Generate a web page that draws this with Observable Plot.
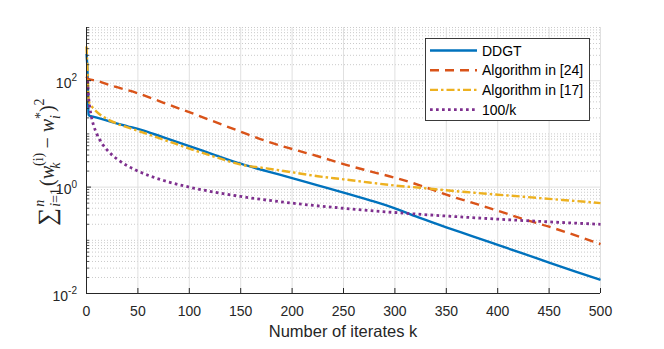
<!DOCTYPE html>
<html>
<head>
<meta charset="utf-8">
<script src="https://cdn.jsdelivr.net/npm/d3@7"></script>
<script src="https://cdn.jsdelivr.net/npm/@observablehq/plot@0.6"></script>
<style>
  html, body { margin: 0; padding: 0; background: #ffffff; }
  #chart svg { display: block; }
</style>
</head>
<body>
<div id="chart"></div>
<script>
// ---- data ----
const kDDGT = [0, 1, 2, 3, 5, 10, 20, 30, 40, 50, 75, 100, 125, 150, 175, 200, 225, 250, 275, 300, 325, 350, 375, 400, 425, 450, 475, 500];
const vDDGT = [320, 150, 23, 22, 21.4, 20.2, 17.8, 15.6, 13.9, 12.4, 8.6, 5.9, 4.0, 2.75, 2.0, 1.48, 1.08, 0.79, 0.57, 0.40, 0.26, 0.175, 0.12, 0.082, 0.056, 0.038, 0.026, 0.018];

const kAlg24 = [0, 1, 2, 10, 25, 50, 75, 100, 125, 150, 175, 200, 225, 250, 275, 300, 325, 350, 375, 400, 425, 450, 475, 500];
const vAlg24 = [120, 110, 107, 100, 80, 58, 38.5, 25.6, 16.8, 11, 7.3, 5.2, 3.8, 2.7, 2.0, 1.5, 1.07, 0.72, 0.51, 0.36, 0.25, 0.18, 0.125, 0.085];

const kAlg17 = [0, 1, 2, 3, 5, 10, 20, 30, 50, 75, 100, 125, 150, 175, 200, 225, 250, 275, 300, 325, 350, 375, 400, 425, 450, 475, 500];
const vAlg17 = [440, 150, 45, 37, 33, 26, 19, 15.5, 11.4, 7.8, 5.3, 3.7, 2.65, 2.25, 1.9, 1.6, 1.4, 1.22, 1.07, 0.97, 0.87, 0.79, 0.72, 0.66, 0.60, 0.55, 0.50];

const kRef = [1, 2, 3, 4, 5, 7, 10, 15, 20, 30, 40, 50, 75, 100, 150, 200, 250, 300, 350, 400, 450, 500];
const vRef = [100, 50, 33.3, 25, 20, 14.3, 10, 6.67, 5, 3.33, 2.5, 2, 1.33, 1, 0.667, 0.5, 0.4, 0.333, 0.286, 0.25, 0.222, 0.2];

const seriesNames = ["DDGT", "Algorithm in [24]", "Algorithm in [17]", "100/k"];
const seriesColors = ["#0072BD", "#D95319", "#EDB120", "#7E2F8E"];
const seriesDash = [null, "9,6", "8,3,2.5,3", "2.7,3.3"];
const seriesWidth = [2.4, 2.4, 2.4, 2.8];

const xTicks = [0, 50, 100, 150, 200, 250, 300, 350, 400, 450, 500];
const yMajor = [0.01, 1, 100];
const yMajorExp = ["-2", "0", "2"];
const yMinor = [
  0.02, 0.03, 0.04, 0.05, 0.06, 0.07, 0.08, 0.09,
  0.1, 0.2, 0.3, 0.4, 0.5, 0.6, 0.7, 0.8, 0.9,
  2, 3, 4, 5, 6, 7, 8, 9,
  10, 20, 30, 40, 50, 60, 70, 80, 90,
  200, 300, 400, 500, 600, 700, 800, 900, 1000
];
const xLabel = "Number of iterates k";

// ---- build tidy rows ----
const rows = [];
const addSeries = (ks, vs, name) => ks.forEach((k, i) => rows.push({k, v: vs[i], name}));
addSeries(kDDGT, vDDGT, seriesNames[0]);
addSeries(kAlg24, vAlg24, seriesNames[1]);
addSeries(kAlg17, vAlg17, seriesNames[2]);
addSeries(kRef, vRef, seriesNames[3]);

const W = 664, H = 349;
const mL = 86, mR = 64, mT = 27, mB = 56;
const fw = W - mL - mR, fh = H - mT - mB;
const axisColor = "#262626";
const sans = "'Liberation Sans', Arial, Helvetica, sans-serif";

const lineMarks = seriesNames.map((name, i) =>
  Plot.line(rows.filter(d => d.name === name), {
    x: "k", y: "v",
    stroke: seriesColors[i],
    strokeWidth: seriesWidth[i],
    strokeDasharray: seriesDash[i],
    strokeLinecap: "butt",
    strokeLinejoin: "round",
    curve: "monotone-x"
  })
);

const chart = Plot.plot({
  width: W, height: H,
  marginLeft: mL, marginRight: mR, marginTop: mT, marginBottom: mB,
  style: {fontFamily: sans, fontSize: "14px", color: axisColor, background: "#ffffff"},
  x: {domain: [0, 500]},
  y: {type: "log", domain: [0.01, 1000]},
  marks: [
    Plot.ruleY(yMinor, {stroke: "#bdbdbd", strokeWidth: 0.8, strokeDasharray: "1,2"}),
    Plot.ruleY(yMajor.slice(1), {stroke: "#e0e0e0", strokeWidth: 1}),
    Plot.ruleX(xTicks.slice(1), {stroke: "#e0e0e0", strokeWidth: 1}),
    ...lineMarks,
    Plot.ruleX([0], {stroke: axisColor, strokeWidth: 1}),
    Plot.ruleY([0.01], {stroke: axisColor, strokeWidth: 1}),
    Plot.ruleX(xTicks, {stroke: axisColor, strokeWidth: 1, insetTop: fh - 5}),
    Plot.ruleY(yMajor, {stroke: axisColor, strokeWidth: 1, insetRight: fw - 5}),
    Plot.ruleY(yMinor, {stroke: axisColor, strokeWidth: 0.8, insetRight: fw - 3}),
    Plot.axisX({ticks: xTicks, tickSize: 0, tickPadding: 13, label: null, fontSize: 14, tickFormat: d => String(d)}),
    Plot.axisY({ticks: [], label: null})
  ]
});

document.getElementById("chart").appendChild(chart);

const svg = d3.select(chart);
const sx = chart.scale("x"), sy = chart.scale("y");
const x0 = sx.apply(0);

// y tick labels 10^e
yMajor.forEach((v, i) => {
  const t = svg.append("text")
    .attr("x", x0 - 9).attr("y", sy.apply(v) + 7.5)
    .attr("text-anchor", "end")
    .attr("font-family", sans).attr("font-size", 14).attr("fill", axisColor);
  t.append("tspan").text("10");
  t.append("tspan").attr("dy", -6.5).attr("font-size", 10).text(yMajorExp[i]);
});

// x label
svg.append("text")
  .attr("x", (sx.apply(0) + sx.apply(500)) / 2).attr("y", 337)
  .attr("text-anchor", "middle")
  .attr("font-family", sans).attr("font-size", 16.5).attr("fill", axisColor)
  .text(xLabel);

// y label (math) built from tspans
const serif = "'Liberation Serif', 'DejaVu Serif', serif";
const yl = svg.append("text")
  .attr("transform", `translate(54,${(sy.apply(0.01) + sy.apply(1000)) / 2 + 2}) rotate(-90)`)
  .attr("text-anchor", "middle")
  .attr("font-family", serif).attr("font-size", 20).attr("fill", axisColor);
let cur = 0;
const part = (txt, {off = 0, size = null, italic = false, dx = 0} = {}) => {
  const ts = yl.append("tspan").text(txt);
  if (off !== cur) ts.attr("dy", off - cur);
  if (dx) ts.attr("dx", dx);
  if (size) ts.attr("font-size", size);
  if (italic) ts.attr("font-style", "italic");
  cur = off;
  return ts;
};
part("\u2211", {size: 25, off: 1});
part("n", {size: 14, italic: true, off: -10, dx: 1});
part("i", {size: 14, italic: true, off: 6, dx: -7});
part("=1", {size: 14, off: 6});
part("(", {off: 0, dx: 2});
part("w", {italic: true, off: 0});
part("(i)", {size: 14, off: -11});
part("k", {size: 14, italic: true, off: 6, dx: -16});
part(" \u2212 ", {off: 0, dx: 9});
part("w", {italic: true, off: 0});
part("*", {size: 14, off: -9});
part("i", {size: 14, italic: true, off: 6, dx: -7});
part(")", {off: 0, dx: 3});
part("2", {size: 14, off: -10});

// legend
const lg = svg.append("g");
lg.append("rect").attr("x", 425.5).attr("y", 38.5).attr("width", 164).attr("height", 82)
  .attr("fill", "#ffffff").attr("stroke", axisColor).attr("stroke-width", 0.9);
const rowY = [50.5, 70.2, 89.9, 109.6];
seriesNames.forEach((name, i) => {
  lg.append("line").attr("x1", 430).attr("x2", 477).attr("y1", rowY[i]).attr("y2", rowY[i])
    .attr("stroke", seriesColors[i]).attr("stroke-width", seriesWidth[i])
    .attr("stroke-dasharray", seriesDash[i]).attr("stroke-linecap", "butt");
  lg.append("text").attr("x", 482).attr("y", rowY[i] + 5)
    .attr("text-anchor", "start")
    .attr("font-family", sans).attr("font-size", 14).attr("fill", "#000000")
    .text(name);
});
</script>
</body>
</html>
